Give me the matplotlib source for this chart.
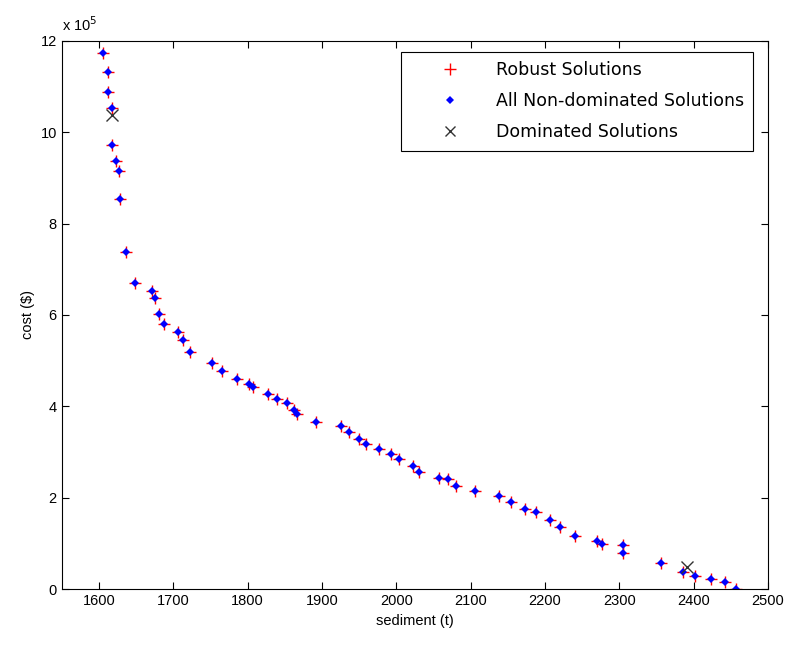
import matplotlib
matplotlib.use("Agg")
import matplotlib.pyplot as plt

plt.rcParams["font.family"] = ["Liberation Sans", "DejaVu Sans"]

# non-dominated solutions (sediment t, cost in 1e5 $)
sediment = [1605, 1612, 1612, 1618, 1618, 1623, 1627, 1629, 1636, 1649,
            1672, 1675, 1681, 1688, 1707, 1713, 1722, 1752, 1765, 1786,
            1802, 1807, 1827, 1840, 1853, 1863, 1866, 1892, 1925, 1936,
            1950, 1959, 1977, 1993, 2004, 2022, 2030, 2058, 2069, 2080,
            2106, 2138, 2154, 2173, 2188, 2207, 2220, 2240, 2270, 2277,
            2305, 2305, 2356, 2386, 2402, 2423, 2442, 2457]
cost = [11.72, 11.32, 10.87, 10.52, 9.72, 9.37, 9.15, 8.53, 7.37, 6.70,
        6.53, 6.36, 6.03, 5.80, 5.62, 5.45, 5.19, 4.95, 4.78, 4.60,
        4.49, 4.43, 4.28, 4.15, 4.08, 3.93, 3.83, 3.65, 3.58, 3.44,
        3.28, 3.17, 3.06, 2.95, 2.85, 2.70, 2.57, 2.44, 2.40, 2.25,
        2.15, 2.04, 1.90, 1.75, 1.68, 1.51, 1.36, 1.16, 1.05, 0.98,
        0.96, 0.80, 0.57, 0.37, 0.28, 0.22, 0.15, 0.00]

dom_sediment = [1618, 2391]
dom_cost = [10.37, 0.48]

fig = plt.figure(figsize=(7.91, 6.46), dpi=100)
ax = fig.add_axes([0.078, 0.088, 0.893, 0.849])

ax.plot(sediment, cost, "+", color="red", markersize=9, mew=1.0,
        label="Robust Solutions")
ax.plot(sediment, cost, "D", color="blue", markersize=4, mew=0,
        label="All Non-dominated Solutions")
ax.plot(dom_sediment, dom_cost, "x", color="#333333", markersize=8, mew=1.0,
        label="Dominated Solutions")

ax.set_xlim(1550, 2500)
ax.set_ylim(0, 12)
ax.set_xticks(range(1600, 2501, 100))
ax.set_yticks(range(0, 13, 2))
ax.tick_params(direction="in", length=5, labelsize=10.5, top=True, right=True)
ax.set_xlabel("sediment (t)", fontsize=10.5)
ax.set_ylabel("cost ($)", fontsize=10.5)
ax.text(0.0, 1.012, r"x 10$^5$", transform=ax.transAxes, fontsize=10.5,
        ha="left", va="bottom")

leg = ax.legend(loc="upper right", fancybox=False,
                prop={"family": "DejaVu Sans", "size": 12.5},
                edgecolor="black", framealpha=1, borderpad=0.55,
                handlelength=4.6, handletextpad=0.3, labelspacing=0.75,
                markerscale=0.9,
                bbox_to_anchor=(0.979, 0.980), borderaxespad=0)
leg.get_frame().set_linewidth(0.8)

fig.savefig("out.png", dpi=100)
